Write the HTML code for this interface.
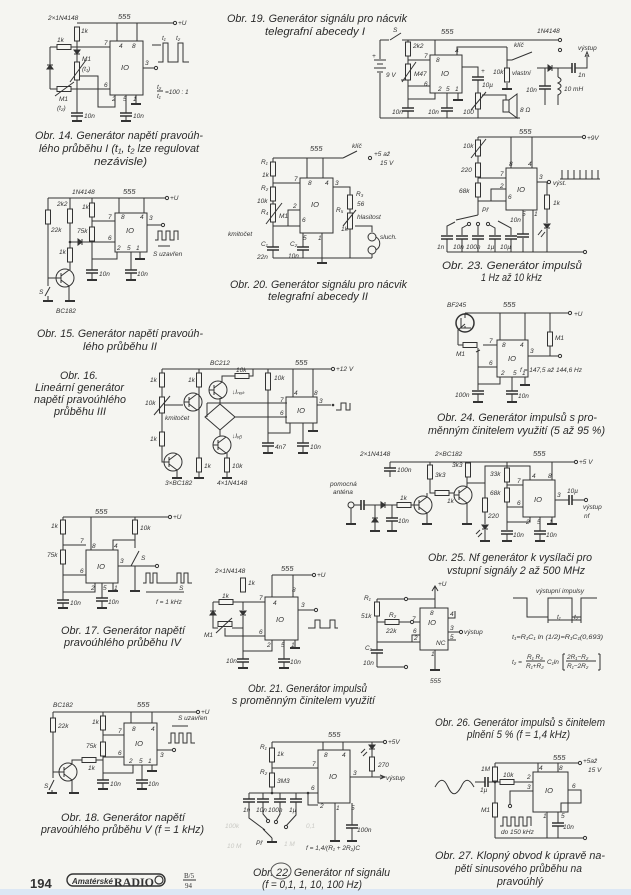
<!DOCTYPE html>
<html><head><meta charset="utf-8">
<style>
html,body{margin:0;padding:0;background:#f5f5f1;}
svg{display:block}
path,rect,circle,line,ellipse,polyline{stroke:#333;stroke-width:1;fill:none}
.f{fill:#333}
.w{fill:#f5f5f1}
.g2{stroke-width:2}
text{font-family:"Liberation Sans",sans-serif;font-style:italic;fill:#333;stroke:none}
.c{font-size:11px;fill:#2a2a2a}
.s{font-size:6.5px}
.t{font-size:7.5px}
.fa{fill:#c9c9c4}
</style></head><body>
<svg width="631" height="895" viewBox="0 0 631 895" xmlns="http://www.w3.org/2000/svg">
<defs>
<g id="rv"><rect x="-2.5" y="0" width="5" height="14" class="w"/></g>
<g id="rh"><rect x="0" y="-2.5" width="14" height="5" class="w"/></g>
<g id="cp"><path d="M-6 0H6M-6 3H6" style="stroke-width:1.6"/></g>
<g id="cq"><path d="M0 -5V5M3 -5V5" style="stroke-width:1.6"/></g>
<g id="gd"><path d="M-5 0H5" style="stroke-width:2"/></g>
<g id="dd"><path d="M-3 0H3L0 4Z" class="f"/><path d="M-3 4H3"/></g>
<g id="du"><path d="M-3 4H3L0 0Z" class="f"/><path d="M-3 0H3"/></g>
<g id="dr"><path d="M0 -3V3L4 0Z" class="f"/><path d="M4 -3V3"/></g>
<g id="dt"><circle r="1.3" class="f" style="stroke:none"/></g>
<g id="oc"><circle r="1.6" class="w"/></g>
<g id="tr"><circle r="9" class="w"/><path d="M-9 0H-4M-4 -5V5M-4 -2L4 -8M-4 2L4 8"/></g>
</defs>

<!-- ===== Obr 14 ===== -->
<text class="s" x="48" y="20">2×1N4148</text>
<text class="t" x="118" y="19">555</text>
<path d="M77 23H173"/><use href="#oc" x="175" y="23"/><text class="s" x="178" y="25">+U</text>
<rect x="110" y="41" width="33" height="54"/><text class="t" x="121" y="70">IO</text>
<path d="M117 23V41M137 23V41"/><text class="s" x="119" y="48">4</text><text class="s" x="132" y="48">8</text>
<use href="#rv" x="77" y="27"/><text class="s" x="81" y="33">1k</text>
<path d="M77 41V62M50 47H57M71 47H110M50 47V89"/>
<use href="#rh" x="57" y="47"/><text class="s" x="57" y="42">1k</text><text class="s" x="104" y="45">7</text>
<use href="#du" x="50" y="65"/><use href="#dd" x="77" y="50"/>
<rect x="74.5" y="62" width="5" height="18" class="w"/><path d="M70 82L86 60"/>
<text class="s" x="82" y="61">M1</text><text class="s" x="82" y="71">(t₁)</text>
<path d="M77 80V113M80 76H98V107H115V95"/>
<use href="#rh" x="57" y="89"/><path d="M55 96L74 82M50 89H57M71 89H110"/>
<text class="s" x="59" y="101">M1</text><text class="s" x="57" y="110">(t₂)</text>
<text class="s" x="104" y="87">6</text><text class="s" x="112" y="101">2</text><text class="s" x="123" y="101">5</text><text class="s" x="133" y="101">1</text>
<use href="#cp" x="77" y="113"/><path d="M77 116V121"/><use href="#gd" x="77" y="121"/><text class="s" x="84" y="118">10n</text>
<path d="M126 95V113"/><use href="#cp" x="126" y="113"/><path d="M126 116V121"/><use href="#gd" x="126" y="121"/><text class="s" x="133" y="118">10n</text>
<path d="M136 95V104"/><use href="#gd" x="136" y="104"/>
<path d="M143 68H154"/><use href="#oc" x="156" y="68"/><text class="s" x="145" y="65">3</text>
<path d="M152 45H161M158 62H163V43H168V62H178V43H183V62H189"/>
<text class="s" x="162" y="40">t₁</text><text class="s" x="176" y="40">t₂</text>
<text class="s" x="157" y="89">t₂</text><path d="M157 91H163"/><text class="s" x="157" y="98">t₁</text><text class="s" x="165" y="94">=100 : 1</text>
<text class="c" x="35" y="139" textLength="168" lengthAdjust="spacingAndGlyphs">Obr. 14. Generátor napětí pravoúh-</text>
<text class="c" x="39" y="152" textLength="160" lengthAdjust="spacingAndGlyphs">lého průběhu I (t₁, t₂ lze regulovat</text>
<text class="c" x="94" y="165" textLength="53" lengthAdjust="spacingAndGlyphs">nezávisle)</text>

<!-- ===== Obr 15 ===== -->
<text class="s" x="72" y="194">1N4148</text><text class="t" x="123" y="194">555</text>
<path d="M48 198H165"/><use href="#oc" x="167" y="198"/><text class="s" x="170" y="200">+U</text>
<path d="M48 198V210M48 224V278H56"/><use href="#rv" x="48" y="210"/><text class="s" x="51" y="232">22k</text>
<path d="M70 198V209M70 223V248M70 262V270"/><use href="#rv" x="70" y="209"/><text class="s" x="57" y="206">2k2</text>
<use href="#rv" x="70" y="248"/><text class="s" x="59" y="254">1k</text>
<path d="M70 242H78M82 242H115"/><use href="#dr" x="78" y="242"/><use href="#dt" x="70" y="242"/>
<use href="#tr" x="65" y="278"/><path d="M69 286V300"/><use href="#gd" x="70" y="301"/>
<path d="M48 278V286M45 296L50 287M48 296V300"/><use href="#gd" x="48" y="301"/><text class="s" x="39" y="294">S</text>
<text class="s" x="56" y="313">BC182</text>
<path d="M92 198V203M92 217V227M92 241V270M92 221H115"/><use href="#rv" x="92" y="203"/><use href="#rv" x="92" y="227"/>
<text class="s" x="82" y="209">1k</text><text class="s" x="77" y="233">75k</text>
<use href="#cp" x="92" y="270"/><path d="M92 273V279"/><use href="#gd" x="92" y="280"/><text class="s" x="99" y="276">10n</text>
<rect x="115" y="213" width="32" height="39"/><text class="t" x="126" y="233">IO</text>
<path d="M119 198V213M144 198V213"/><text class="s" x="121" y="219">8</text><text class="s" x="140" y="219">4</text><text class="s" x="108" y="219">7</text><text class="s" x="108" y="240">6</text><text class="s" x="149" y="220">3</text>
<path d="M92 259H117V252M131 252V270M140 252V258"/><use href="#cp" x="131" y="270"/><path d="M131 273V279"/><use href="#gd" x="131" y="280"/><use href="#gd" x="140" y="259"/>
<text class="s" x="137" y="276">10n</text><text class="s" x="117" y="250">2</text><text class="s" x="127" y="250">5</text><text class="s" x="136" y="250">1</text>
<path d="M147 225H161"/><use href="#oc" x="163" y="225"/>
<path d="M155 240H158V231H162V240H166V231H170V240H174V231H178V240"/>
<path d="M158 246H170"/><text class="s" x="153" y="256">S uzavřen</text>
<text class="c" x="37" y="337" textLength="166" lengthAdjust="spacingAndGlyphs">Obr. 15. Generátor napětí pravoúh-</text>
<text class="c" x="83" y="350" textLength="74" lengthAdjust="spacingAndGlyphs">lého průběhu II</text>

<!-- ===== Obr 16 ===== -->
<text class="c" x="60" y="379" textLength="38" lengthAdjust="spacingAndGlyphs">Obr. 16.</text>
<text class="c" x="35" y="391" textLength="89" lengthAdjust="spacingAndGlyphs">Lineární generátor</text>
<text class="c" x="34" y="403" textLength="92" lengthAdjust="spacingAndGlyphs">napětí pravoúhlého</text>
<text class="c" x="54" y="415" textLength="52" lengthAdjust="spacingAndGlyphs">průběhu III</text>
<text class="s" x="210" y="365">BC212</text><text class="t" x="295" y="365">555</text>
<path d="M162 369H331"/><use href="#oc" x="333" y="369"/><text class="s" x="336" y="371">+12 V</text>
<path d="M162 369V373M162 387V397M162 413V432M162 446V462H164"/><use href="#rv" x="162" y="373"/><text class="s" x="150" y="382">1k</text>
<rect x="159.5" y="397" width="5" height="16" class="w"/><path d="M154 415L170 396"/><text class="s" x="145" y="405">10k</text><text class="s" x="165" y="420">kmitočet</text>
<path d="M165 405H183"/>
<use href="#rv" x="162" y="432"/><text class="s" x="150" y="441">1k</text>
<use href="#tr" x="173" y="462"/><path d="M177 470V477"/><use href="#gd" x="177" y="478"/>
<use href="#tr" x="193" y="402"/>
<path d="M199 369V373M199 387V458M199 472V477"/><use href="#rv" x="199" y="373"/><use href="#rv" x="199" y="458"/><use href="#gd" x="199" y="478"/>
<text class="s" x="188" y="382">1k</text><text class="s" x="204" y="468">1k</text>
<use href="#tr" x="218" y="390"/><path d="M222 382V376H235M249 376H253V369"/><use href="#rh" x="235" y="376"/><text class="s" x="236" y="372">10k</text>
<text class="s" x="232" y="394">↓Iₙₐₖ</text>
<path d="M220 404L235 417L220 430L205 417Z"/><path d="M207 403V417M207 403H287M235 417H287M220 398V404M220 430V437"/>
<use href="#tr" x="222" y="445"/><text class="s" x="232" y="438">↓Iᵥᵦ</text>
<path d="M227 453V458M227 472V477"/><use href="#rv" x="227" y="458"/><use href="#gd" x="227" y="478"/><text class="s" x="232" y="468">10k</text>
<path d="M268 369V373M268 390V443"/><rect x="265.5" y="373" width="5" height="17" class="w"/><text class="s" x="274" y="380">10k</text>
<use href="#cp" x="268" y="443"/><path d="M268 446V452"/><use href="#gd" x="268" y="453"/><text class="s" x="275" y="449">4n7</text>
<rect x="286" y="397" width="31" height="26"/><text class="t" x="297" y="413">IO</text>
<path d="M293 369V397M313 369V397"/><text class="s" x="294" y="395">4</text><text class="s" x="314" y="395">8</text><text class="s" x="280" y="402">7</text><text class="s" x="280" y="415">6</text>
<path d="M290 423V433H268M303 423V443M313 423V430"/><use href="#cp" x="303" y="443"/><path d="M303 446V452"/><use href="#gd" x="303" y="453"/><use href="#gd" x="313" y="431"/>
<text class="s" x="310" y="449">10n</text>
<path d="M317 405H331"/><text class="s" x="319" y="403">3</text><use href="#dt" x="333" y="405"/>
<path d="M336 410H341V403H346V410H350V403"/>
<text class="s" x="165" y="485">3×BC182</text><text class="s" x="217" y="485">4×1N4148</text>

<!-- ===== Obr 17 ===== -->
<text class="t" x="95" y="514">555</text>
<path d="M63 517H168"/><use href="#oc" x="170" y="517"/><text class="s" x="173" y="519">+U</text>
<path d="M63 517V520M63 534V550M63 564V600"/><use href="#rv" x="63" y="520"/><use href="#rv" x="63" y="550"/>
<text class="s" x="51" y="528">1k</text><text class="s" x="47" y="557">75k</text>
<path d="M63 545H86M63 575H86"/><text class="s" x="80" y="543">7</text><text class="s" x="80" y="573">6</text>
<use href="#cp" x="63" y="600"/><path d="M63 603V608"/><use href="#gd" x="63" y="608"/><text class="s" x="70" y="605">10n</text>
<rect x="86" y="550" width="32" height="33"/><text class="t" x="97" y="569">IO</text>
<path d="M91 517V550M113 550V540H135"/><text class="s" x="92" y="548">8</text><text class="s" x="114" y="548">4</text>
<path d="M135 517V520M135 534V548M131 566L139 551M135 566V590"/><use href="#rv" x="135" y="520"/><use href="#gd" x="135" y="591"/>
<text class="s" x="140" y="530">10k</text><text class="s" x="141" y="560">S</text>
<path d="M95 583V592H63M102 583V598M113 583V590"/><use href="#cp" x="102" y="598"/><path d="M102 601V607"/><use href="#gd" x="102" y="608"/><use href="#gd" x="113" y="591"/>
<text class="s" x="108" y="604">10n</text><text class="s" x="91" y="590">2</text><text class="s" x="103" y="590">5</text><text class="s" x="114" y="590">1</text>
<path d="M118 566H155"/><use href="#oc" x="157" y="566"/><text class="s" x="120" y="563">3</text>
<path d="M143 583H146V573H150V583H153V573H157V583H177V573H181V583H184V573H188V583H192"/>
<path d="M146 592H184"/><text class="s" x="179" y="590">S</text>
<text class="s" x="156" y="604">f = 1 kHz</text>
<text class="c" x="61" y="634" textLength="124" lengthAdjust="spacingAndGlyphs">Obr. 17. Generátor napětí</text>
<text class="c" x="64" y="646" textLength="117" lengthAdjust="spacingAndGlyphs">pravoúhlého průběhu IV</text>

<!-- ===== Obr 18 ===== -->
<text class="s" x="53" y="707">BC182</text><text class="t" x="137" y="707">555</text>
<path d="M53 712H196"/><use href="#oc" x="198" y="712"/><text class="s" x="201" y="714">+U</text>
<path d="M53 712V718M53 732V778M49 790L54 780M52 790V792"/><use href="#rv" x="53" y="718"/><use href="#gd" x="52" y="793"/>
<text class="s" x="58" y="728">22k</text><text class="s" x="44" y="788">S</text>
<use href="#tr" x="68" y="772"/><path d="M53 772H59M72 780V792"/><use href="#gd" x="74" y="793"/>
<path d="M72 764V760H82M96 760H103"/><use href="#rh" x="82" y="760"/><text class="s" x="88" y="770">1k</text>
<path d="M103 712V716M103 730V742M103 756V780M103 735H124M103 757H124"/><use href="#rv" x="103" y="716"/><use href="#rv" x="103" y="742"/>
<text class="s" x="92" y="724">1k</text><text class="s" x="86" y="748">75k</text>
<use href="#cp" x="103" y="780"/><path d="M103 783V788"/><use href="#gd" x="103" y="789"/><text class="s" x="110" y="786">10n</text>
<rect x="124" y="723" width="33" height="42"/><text class="t" x="135" y="746">IO</text>
<path d="M131 712V723M152 712V723"/><text class="s" x="132" y="731">8</text><text class="s" x="151" y="731">4</text><text class="s" x="118" y="733">7</text><text class="s" x="118" y="755">6</text>
<path d="M133 765V773H103M142 765V780M152 765V770"/><use href="#cp" x="142" y="780"/><path d="M142 783V788"/><use href="#gd" x="142" y="789"/><use href="#gd" x="152" y="771"/>
<text class="s" x="148" y="786">10n</text><text class="s" x="129" y="763">2</text><text class="s" x="139" y="763">5</text><text class="s" x="148" y="763">1</text>
<path d="M157 750H172"/><use href="#oc" x="174" y="750"/><text class="s" x="160" y="757">3</text>
<path d="M168 743H171V733H175V743H179V733H183V743H187V733H191V743H195"/>
<path d="M172 726H188"/><text class="s" x="178" y="720">S uzavřen</text>
<text class="c" x="61" y="821" textLength="124" lengthAdjust="spacingAndGlyphs">Obr. 18. Generátor napětí</text>
<text class="c" x="41" y="833" textLength="163" lengthAdjust="spacingAndGlyphs">pravoúhlého průběhu V (f = 1 kHz)</text>

<!-- footer -->
<text x="30" y="888" style="font-size:13px;font-weight:bold;font-style:normal">194</text>
<rect x="67" y="874" width="98" height="12" rx="6" style="stroke-width:1.4"/>
<text x="72" y="884" style="font-size:8px;font-weight:bold">Amatérské</text>
<text x="114" y="886" style="font-size:12px;font-weight:bold;font-style:normal;font-family:'Liberation Serif',serif">RADIO</text>
<circle cx="159" cy="880" r="4" style="stroke-width:1.2"/>
<text x="184" y="878" style="font-size:7px;font-style:normal;font-family:'Liberation Serif',serif">B/5</text><path d="M183 880H196"/>
<text x="185" y="888" style="font-size:7px;font-style:normal;font-family:'Liberation Serif',serif">94</text>
<rect x="0" y="889" width="631" height="6" style="fill:#dce7f4;stroke:none"/>

<!-- ===== Obr 19 ===== -->
<text class="c" x="227" y="22" textLength="180" lengthAdjust="spacingAndGlyphs">Obr. 19. Generátor signálu pro nácvik</text>
<text class="c" x="265" y="35" textLength="100" lengthAdjust="spacingAndGlyphs">telegrafní abecedy I</text>
<text class="s" x="393" y="32">S</text><text class="t" x="441" y="34">555</text><text class="s" x="537" y="33">1N4148</text>
<path d="M380 40H389M390 40L401 33M402 40H558"/><use href="#oc" x="560" y="40"/>
<path d="M380 40V59M380 73V118"/>
<path d="M374 60H386M377 64H383M374 68H386M377 72H383"/><text class="s" x="372" y="58">+</text><text class="s" x="386" y="77">9 V</text>
<path d="M408 40V42M408 56V64M408 80V108M408 111V118M408 60H430M408 86H430M408 99H435V93"/>
<use href="#rv" x="408" y="42"/><text class="s" x="413" y="48">2k2</text>
<rect x="405.5" y="64" width="5" height="16" class="w"/><path d="M402 82L416 62M401 80H405"/><text class="s" x="414" y="76">M47</text>
<use href="#cp" x="408" y="108"/><text class="s" x="392" y="114">10n</text>
<rect x="430" y="55" width="32" height="38"/><text class="t" x="441" y="76">IO</text>
<path d="M435 40V55M457 55V47H507"/><text class="s" x="436" y="62">8</text><text class="s" x="455" y="53">4</text><text class="s" x="424" y="58">7</text><text class="s" x="424" y="86">6</text>
<path d="M447 93V108M447 111V118M458 93V99"/><use href="#cp" x="447" y="108"/><use href="#gd" x="458" y="100"/><text class="s" x="428" y="114">10n</text>
<text class="s" x="438" y="91">2</text><text class="s" x="446" y="91">5</text><text class="s" x="455" y="91">1</text>
<path d="M462 67H478V77M478 80V93M478 109V118"/><use href="#cp" x="478" y="77"/><text class="s" x="481" y="73">+</text><text class="s" x="482" y="87">10µ</text>
<rect x="475.5" y="93" width="5" height="16" class="w"/><path d="M471 110L486 92"/><text class="s" x="463" y="114">100</text>
<path d="M482 95H506V100"/><rect x="503" y="100" width="6" height="12" class="w"/><path d="M509 100L517 94V118L509 112"/><text class="s" x="520" y="112">8 Ω</text>
<path d="M380 118H520"/>
<path d="M507 47V60M507 60H512L532 52M507 60V68M507 83V89"/><use href="#rv" x="507" y="68"/><use href="#gd" x="507" y="89"/><use href="#oc" x="560" y="50"/>
<text class="s" x="514" y="47">klíč</text><text class="s" x="493" y="74">10k</text><text class="s" x="512" y="75">vlastní</text>
<path d="M537 68H548M552 68H572M575 68H587V55"/><use href="#dr" x="548" y="68"/><use href="#cq" x="572" y="68"/><path d="M585 57L587 52L589 57"/>
<text class="s" x="578" y="50">výstup</text><text class="s" x="578" y="77">1n</text>
<path d="M545 68V86M545 89V105"/><use href="#cp" x="545" y="86"/><text class="s" x="526" y="92">10n</text>
<path d="M558 68V77M558 77C562 79 562 81 558 83C562 85 562 87 558 89C562 91 562 93 558 95V105"/><text class="s" x="564" y="91">10 mH</text>

<!-- ===== Obr 20 ===== -->
<text class="t" x="310" y="151">555</text>
<path d="M273 158H343M343 158L357 151"/><use href="#oc" x="370" y="158"/><text class="s" x="352" y="148">klíč</text>
<text class="s" x="374" y="156">+5 až</text><text class="s" x="380" y="165">15 V</text>
<path d="M273 158V162M273 176V187M273 201V204M273 222V247M273 250V258M273 183H300M273 226H300M288 226V210H300"/>
<use href="#rv" x="273" y="162"/><use href="#rv" x="273" y="187"/>
<rect x="270.5" y="204" width="5" height="18" class="w"/><path d="M266 224L282 203"/>
<text class="s" x="261" y="164">R₁</text><text class="s" x="262" y="177">1k</text><text class="s" x="261" y="190">R₂</text><text class="s" x="257" y="203">10k</text><text class="s" x="261" y="214">R₄</text><text class="s" x="279" y="218">M1</text>
<text class="s" x="228" y="236">kmitočet</text>
<use href="#cp" x="273" y="247"/><text class="s" x="261" y="246">C₁</text><text class="s" x="257" y="259">22n</text>
<rect x="300" y="178" width="33" height="55"/><text class="t" x="311" y="207">IO</text>
<path d="M307 158V178M323 158V178"/><text class="s" x="308" y="185">8</text><text class="s" x="325" y="185">4</text><text class="s" x="294" y="181">7</text><text class="s" x="293" y="208">2</text><text class="s" x="302" y="222">6</text>
<path d="M303 233V247M303 250V258M322 233V262"/><use href="#cp" x="303" y="247"/><use href="#gd" x="322" y="263"/>
<text class="s" x="290" y="246">C₂</text><text class="s" x="288" y="258">10n</text><text class="s" x="303" y="240">5</text><text class="s" x="318" y="240">1</text>
<path d="M333 187H350V195M350 209V213M350 229V258"/><use href="#rv" x="350" y="195"/><text class="s" x="335" y="185">3</text>
<rect x="347.5" y="213" width="5" height="16" class="w"/><path d="M343 226L356 210"/>
<text class="s" x="356" y="196">R₃</text><text class="s" x="357" y="206">56</text><text class="s" x="336" y="212">R₅</text><text class="s" x="341" y="231">1k</text><text class="s" x="357" y="219">hlasitost</text>
<path d="M355 226H372V232M372 254V258"/><circle cx="372" cy="237" r="4"/><circle cx="372" cy="250" r="4"/><path d="M376 237C381 240 381 247 376 250"/><text class="s" x="380" y="239">sluch.</text>
<path d="M273 258H372"/>
<text class="c" x="230" y="288" textLength="177" lengthAdjust="spacingAndGlyphs">Obr. 20. Generátor signálu pro nácvik</text>
<text class="c" x="268" y="300" textLength="100" lengthAdjust="spacingAndGlyphs">telegrafní abecedy II</text>

<!-- ===== Obr 23 ===== -->
<text class="t" x="519" y="134">555</text>
<path d="M478 137H582"/><use href="#oc" x="584" y="137"/><text class="s" x="587" y="140">+9V</text>
<path d="M478 137V140M478 156V163M478 177V183M478 197V215M478 178H506M478 201H506M491 201V189H506"/>
<rect x="475.5" y="140" width="5" height="16" class="w"/><path d="M471 158L486 139"/><use href="#rv" x="478" y="163"/><use href="#rv" x="478" y="183"/>
<text class="s" x="463" y="148">10k</text><text class="s" x="461" y="172">220</text><text class="s" x="459" y="193">68k</text>
<rect x="506" y="168" width="31" height="42"/><text class="t" x="517" y="192">IO</text>
<path d="M511 137V168M532 137V168"/><text class="s" x="509" y="166">8</text><text class="s" x="528" y="166">4</text><text class="s" x="500" y="176">7</text><text class="s" x="500" y="188">2</text><text class="s" x="508" y="199">6</text>
<path d="M537 182H547"/><use href="#oc" x="549" y="182"/><text class="s" x="539" y="179">3</text><text class="s" x="553" y="185">výst.</text>
<path d="M560 179H600M562 170V179M568 170V179M574 170V179M580 170V179M586 170V179M592 170V179M598 170V179"/>
<path d="M547 182V195M547 209V223M547 229V252"/><use href="#rv" x="547" y="195"/><use href="#dd" x="547" y="224"/><path d="M538 235L542 230M541 237L545 232"/><text class="s" x="553" y="205">1k</text>
<path d="M478 215L456 220"/><text class="s" x="482" y="212">Př</text>
<path d="M447 235V226L455 222M462 235V228L469 224M478 235V225M495 235V228L488 224M511 235V228L498 221"/>
<use href="#oc" x="478" y="224"/><use href="#oc" x="469" y="224"/><use href="#oc" x="488" y="224"/>
<use href="#cp" x="447" y="236"/><use href="#cp" x="462" y="236"/><use href="#cp" x="478" y="236"/><use href="#cp" x="495" y="236"/><use href="#cp" x="511" y="236"/>
<path d="M447 239V252M462 239V252M478 239V252M495 239V252M511 239V252M447 252H583"/><use href="#oc" x="585" y="252"/>
<text class="s" x="437" y="249">1n</text><text class="s" x="453" y="249">10n</text><text class="s" x="466" y="249">100n</text><text class="s" x="487" y="249">1µ</text><text class="s" x="500" y="249">10µ</text>
<path d="M523 210V234M523 238V252M533 210V252"/><use href="#cp" x="523" y="234"/><text class="s" x="510" y="222">10n</text><text class="s" x="522" y="216">5</text><text class="s" x="534" y="216">1</text>
<text class="c" x="442" y="269" textLength="140" lengthAdjust="spacingAndGlyphs">Obr. 23. Generátor impulsů</text>
<text class="c" x="481" y="281" textLength="61" lengthAdjust="spacingAndGlyphs">1 Hz až 10 kHz</text>

<!-- ===== Obr 24 ===== -->
<text class="s" x="447" y="307">BF245</text><text class="t" x="503" y="307">555</text>
<path d="M465 313H568"/><use href="#oc" x="570" y="313"/><text class="s" x="574" y="316">+U</text>
<circle cx="465" cy="323" r="9" class="w" style="stroke-width:1.5"/><path d="M465 313V318M461 318V328H471M465 328V326M465 324L458 330V345"/>
<path d="M458 345H463M483 345H497M478 348V390"/><use href="#rh" x="463" y="345"/><path d="M476 352L480 350"/><text class="s" x="456" y="356">M1</text>
<path d="M478 367H497M500 377V384H478"/><text class="s" x="489" y="343">7</text><text class="s" x="489" y="365">6</text><text class="s" x="501" y="375">2</text>
<use href="#cp" x="478" y="391"/><path d="M478 394V401"/><use href="#gd" x="478" y="402"/><text class="s" x="455" y="397">100n</text>
<rect x="497" y="340" width="31" height="37"/><text class="t" x="508" y="361">IO</text>
<path d="M500 313V340M525 313V340"/><text class="s" x="502" y="347">8</text><text class="s" x="520" y="347">4</text>
<path d="M550 313V332M550 346V356M528 356H558"/><use href="#rv" x="550" y="332"/><use href="#oc" x="560" y="356"/><text class="s" x="555" y="340">M1</text><text class="s" x="530" y="353">3</text>
<text class="s" x="520" y="372">f = 147,5 až 144,6 Hz</text>
<path d="M512 377V391M512 394V401M525 377V384"/><use href="#cp" x="512" y="391"/><use href="#gd" x="512" y="402"/><use href="#gd" x="525" y="385"/>
<text class="s" x="518" y="398">10n</text><text class="s" x="513" y="375">5</text><text class="s" x="522" y="375">1</text>
<text class="c" x="437" y="421" textLength="160" lengthAdjust="spacingAndGlyphs">Obr. 24. Generátor impulsů s pro-</text>
<text class="c" x="428" y="434" textLength="177" lengthAdjust="spacingAndGlyphs">měnným činitelem využití (5 až 95 %)</text>

<!-- ===== Obr 25 ===== -->
<text class="s" x="360" y="456">2×1N4148</text><text class="s" x="435" y="456">2×BC182</text><text class="t" x="533" y="456">555</text>
<path d="M390 462H574"/><use href="#oc" x="576" y="462"/><text class="s" x="579" y="464">+5 V</text>
<path d="M390 462V468M390 471V477"/><use href="#cp" x="390" y="468"/><text class="s" x="397" y="472">100n</text>
<text class="s" x="330" y="486">pomocná</text><text class="s" x="333" y="494">anténa</text>
<circle cx="351" cy="505" r="3"/><path d="M351 508V523"/><use href="#gd" x="351" y="524"/>
<path d="M354 505H361M364 505H381M385 505H397M411 505H414"/><use href="#cq" x="361" y="505"/><use href="#dr" x="381" y="505"/><use href="#rh" x="397" y="505"/><text class="s" x="400" y="500">1k</text>
<path d="M375 505V518M375 522V530M392 505V518M392 521V530"/><use href="#du" x="375" y="518"/><use href="#cp" x="392" y="518"/><use href="#gd" x="375" y="531"/><use href="#gd" x="392" y="531"/><text class="s" x="398" y="523">10n</text>
<use href="#tr" x="423" y="505"/><path d="M427 497V493M427 513V523"/><use href="#gd" x="427" y="524"/>
<path d="M430 462V465M430 479V493H435M449 493H455"/><use href="#rv" x="430" y="465"/><use href="#rh" x="435" y="493"/><text class="s" x="435" y="477">3k3</text><text class="s" x="447" y="503">1k</text>
<use href="#tr" x="463" y="495"/><path d="M467 487V477M467 503V523"/><use href="#gd" x="467" y="524"/>
<path d="M468 462V463"/><use href="#rv" x="468" y="463"/><text class="s" x="452" y="467">3k3</text>
<path d="M467 483H485V498M485 512V524M485 530V540"/><use href="#rv" x="485" y="498"/><use href="#dd" x="485" y="525"/><use href="#gd" x="485" y="541"/><path d="M476 534L480 530M478 537L482 533"/>
<text class="s" x="488" y="518">220</text>
<path d="M485 483V466H530V480M507 462V468M507 482V488M507 502V530"/><use href="#rv" x="507" y="468"/><use href="#rv" x="507" y="488"/>
<text class="s" x="490" y="476">33k</text><text class="s" x="490" y="495">68k</text>
<path d="M507 485H523M507 507H523"/><text class="s" x="517" y="483">7</text><text class="s" x="517" y="505">6</text>
<use href="#cp" x="507" y="531"/><path d="M507 534V540"/><use href="#gd" x="507" y="541"/><text class="s" x="513" y="537">10n</text>
<rect x="523" y="480" width="32" height="37"/><text class="t" x="534" y="502">IO</text>
<path d="M552 462V480"/><text class="s" x="532" y="478">4</text><text class="s" x="548" y="478">8</text>
<path d="M530 517V522H507M540 517V531M540 534V540M552 517V523"/><use href="#cp" x="540" y="531"/><use href="#gd" x="540" y="541"/><use href="#gd" x="552" y="524"/>
<text class="s" x="546" y="537">10n</text><text class="s" x="526" y="524">2</text><text class="s" x="537" y="524">5</text><text class="s" x="549" y="524">1</text>
<path d="M555 500H569M572 500H584"/><use href="#cq" x="569" y="500"/><use href="#oc" x="586" y="500"/><text class="s" x="557" y="497">3</text><text class="s" x="567" y="493">10µ</text>
<text class="s" x="583" y="509">výstup</text><text class="s" x="584" y="518">nf</text>
<text class="c" x="428" y="561" textLength="164" lengthAdjust="spacingAndGlyphs">Obr. 25. Nf generátor k vysílači pro</text>
<text class="c" x="447" y="574" textLength="138" lengthAdjust="spacingAndGlyphs">vstupní signály 2 až 500 MHz</text>

<!-- ===== Obr 21 ===== -->
<text class="s" x="215" y="573">2×1N4148</text><text class="t" x="281" y="571">555</text>
<path d="M272 575H312"/><use href="#oc" x="314" y="575"/><text class="s" x="317" y="577">+U</text>
<path d="M243 578V592M243 602V610M243 616V636"/><use href="#rv" x="243" y="578"/><text class="s" x="248" y="585">1k</text>
<path d="M213 602H219M233 602H265M213 602V628H218M232 628H243"/><use href="#rh" x="219" y="602"/><text class="s" x="222" y="598">1k</text><text class="s" x="259" y="600">7</text>
<use href="#du" x="213" y="611"/><use href="#dd" x="243" y="611"/>
<use href="#rh" x="218" y="624"/><path d="M216 633L232 618M225 628V636H243"/><text class="s" x="204" y="637">M1</text>
<path d="M243 636H265M243 636V659M272 640V651H243"/><text class="s" x="259" y="634">6</text>
<use href="#cp" x="243" y="659"/><path d="M243 662V667"/><use href="#gd" x="243" y="668"/><text class="s" x="226" y="663">10n</text>
<rect x="265" y="597" width="33" height="43"/><text class="t" x="276" y="622">IO</text>
<path d="M272 575V597M293 575V597"/><text class="s" x="273" y="605">4</text><text class="s" x="292" y="592">8</text>
<path d="M284 640V659M284 662V667M295 640V647"/><use href="#cp" x="284" y="659"/><use href="#gd" x="284" y="668"/><use href="#gd" x="295" y="648"/>
<text class="s" x="290" y="664">10n</text><text class="s" x="267" y="647">2</text><text class="s" x="281" y="647">5</text><text class="s" x="291" y="647">1</text>
<path d="M298 610H314"/><use href="#oc" x="316" y="610"/><text class="s" x="301" y="607">3</text>
<path d="M308 628H315V620H320V628H330V620H335V628H338"/>
<text class="c" x="248" y="692" textLength="119" lengthAdjust="spacingAndGlyphs">Obr. 21. Generátor impulsů</text>
<text class="c" x="232" y="704" textLength="143" lengthAdjust="spacingAndGlyphs">s proměnným činitelem využití</text>

<!-- ===== Obr 26 ===== -->
<path d="M435 608V587M432 591L435 586L438 591"/><text class="s" x="438" y="586">+U</text>
<path d="M377 599H404M408 599H435M377 599V602M377 616V650M377 653V667M377 622H385M399 622H410M414 622H420"/>
<use href="#oc" x="406" y="599"/><use href="#rv" x="377" y="602"/><use href="#rh" x="385" y="622"/><use href="#oc" x="412" y="622"/>
<text class="s" x="364" y="600">R₁</text><text class="s" x="361" y="618">51k</text><text class="s" x="389" y="617">R₂</text><text class="s" x="386" y="633">22k</text>
<path d="M377 642H420M412 642V635H420"/><text class="s" x="412" y="621">7</text><text class="s" x="413" y="633">6</text><text class="s" x="414" y="640">2</text>
<use href="#cp" x="377" y="650"/><text class="s" x="365" y="650">C₁</text><text class="s" x="363" y="665">10n</text>
<path d="M377 667H404"/><use href="#oc" x="406" y="667"/>
<rect x="420" y="608" width="28" height="42"/><text class="t" x="428" y="625">IO</text><text class="s" x="436" y="645">NC</text><text class="s" x="430" y="615">8</text>
<path d="M448 618H455V611M448 632H459M448 640H456M435 650V669"/><use href="#oc" x="461" y="632"/><use href="#gd" x="435" y="670"/>
<text class="s" x="450" y="616">4</text><text class="s" x="450" y="630">3</text><text class="s" x="450" y="639">5</text><text class="s" x="431" y="656">1</text><text class="s" x="464" y="634">výstup</text>
<text class="s" x="430" y="683">555</text>
<text class="s" x="536" y="593">výstupní impulsy</text>
<path d="M513 598H527V617H548V598H572V617H581V598H597"/>
<path d="M548 620H572M572 620H581M548 617V623M572 617V623M581 617V623"/><text class="s" x="557" y="619">t₁</text><text class="s" x="574" y="619">t₂</text>
<text class="s" x="512" y="639" textLength="91" lengthAdjust="spacingAndGlyphs">t₁=R₁C₁ ln (1/2)=R₁C₁(0,693)</text>
<text class="s" x="512" y="664">t₂ =</text><text class="s" x="527" y="659">R₁ R₂</text><path d="M526 661H545"/><text class="s" x="526" y="668">R₁+R₂</text>
<text class="s" x="547" y="664">C₁ln</text><path d="M563 654V670M563 654H565M563 670H565M600 654V670M598 654H600M598 670H600"/>
<text class="s" x="567" y="659">2R₁−R₂</text><path d="M566 661H596"/><text class="s" x="567" y="668">R₁−2R₂</text>
<text class="c" x="435" y="726" textLength="170" lengthAdjust="spacingAndGlyphs">Obr. 26. Generátor impulsů s činitelem</text>
<text class="c" x="467" y="738" textLength="103" lengthAdjust="spacingAndGlyphs">plnění 5 % (f = 1,4 kHz)</text>

<!-- ===== Obr 22 ===== -->
<text class="t" x="328" y="737">555</text>
<path d="M272 742H383"/><use href="#oc" x="385" y="742"/><text class="s" x="388" y="744">+5V</text>
<path d="M272 742V748M272 762V773M272 787V793M272 768H318"/><use href="#rv" x="272" y="748"/><use href="#rv" x="272" y="773"/>
<text class="s" x="260" y="749">R₁</text><text class="s" x="277" y="756">1k</text><text class="s" x="260" y="774">R₂</text><text class="s" x="277" y="783">3M3</text><text class="s" x="312" y="766">7</text>
<path d="M249 793H318M308 793V805H318"/><use href="#dt" x="272" y="793"/><use href="#dt" x="308" y="793"/><text class="s" x="311" y="790">6</text><text class="s" x="320" y="808">2</text>
<path d="M249 793V799M263 793V799M280 793V799M296 793V799"/>
<use href="#cp" x="249" y="799"/><use href="#cp" x="263" y="799"/><use href="#cp" x="280" y="799"/><use href="#cp" x="296" y="799"/>
<text class="s" x="243" y="812">1n</text><text class="s" x="256" y="812">10n</text><text class="s" x="268" y="812">100n</text><text class="s" x="289" y="812">1µ</text>
<path d="M249 802V818L265 830M263 802V814L268 820M280 802V814L276 821M296 802V815L286 826M272 838L263 829M272 838V841"/>
<use href="#oc" x="268" y="821"/><use href="#oc" x="276" y="822"/><use href="#oc" x="286" y="827"/><use href="#gd" x="272" y="842"/>
<text class="s" x="256" y="845">Př</text>
<text class="s fa" x="225" y="828">100k</text><text class="s fa" x="227" y="848">10 M</text><text class="s fa" x="284" y="846">1 M</text><text class="s fa" x="306" y="828">0,1</text>
<rect x="318" y="750" width="32" height="53"/><text class="t" x="329" y="779">IO</text>
<path d="M323 742V750M343 742V750"/><text class="s" x="324" y="757">8</text><text class="s" x="342" y="757">4</text>
<path d="M335 803V840M352 803V825M352 828V840"/><use href="#gd" x="335" y="841"/><use href="#cp" x="352" y="825"/><use href="#gd" x="352" y="841"/>
<text class="s" x="336" y="810">1</text><text class="s" x="351" y="810">5</text><text class="s" x="357" y="832">100n</text>
<path d="M350 777H383"/><path d="M380 775L385 777L380 779"/><text class="s" x="353" y="775">3</text><text class="s" x="386" y="780">výstup</text>
<path d="M372 742V745M372 749V757M372 771V777"/><use href="#dd" x="372" y="745"/><use href="#rv" x="372" y="757"/><path d="M361 753L365 749M363 756L367 752"/><text class="s" x="378" y="767">270</text>
<text class="s" x="306" y="850">f = 1,4/(R₁ + 2R₂)C</text>
<ellipse cx="281" cy="871" rx="10" ry="8" style="stroke:#555"/>
<text class="c" x="253" y="876" textLength="137" lengthAdjust="spacingAndGlyphs">Obr. 22. Generátor nf signálu</text>
<text class="c" x="262" y="888" textLength="100" lengthAdjust="spacingAndGlyphs">(f = 0,1, 1, 10, 100 Hz)</text>

<!-- ===== Obr 27 ===== -->
<text class="t" x="553" y="760">555</text>
<path d="M495 763H578"/><use href="#oc" x="580" y="763"/><text class="s" x="583" y="763">+5až</text><text class="s" x="588" y="772">15 V</text>
<path d="M495 763V767M495 781V803M495 817V838"/><use href="#rv" x="495" y="767"/><use href="#rv" x="495" y="803"/>
<text class="s" x="481" y="771">1M</text><text class="s" x="481" y="812">M1</text>
<path d="M435 787C440 778 444 778 448 787C452 796 456 796 461 787C465 778 469 778 474 787"/>
<path d="M475 782H485M488 782H500M514 782H533"/><use href="#cq" x="485" y="782"/><use href="#rh" x="500" y="782"/><use href="#dt" x="495" y="782"/>
<text class="s" x="480" y="792">1µ</text><text class="s" x="503" y="777">10k</text><text class="s" x="527" y="779">2</text>
<path d="M533 791H510V805"/><use href="#oc" x="510" y="806"/><text class="s" x="527" y="789">3</text>
<path d="M500 826H503V817H507V826H511V817H515V826H519V817H523V826H527V817H531V826"/>
<text class="s" x="501" y="834">do 150 kHz</text>
<rect x="533" y="772" width="35" height="40"/><text class="t" x="545" y="793">IO</text>
<path d="M538 763V772M558 763V772"/><text class="s" x="539" y="770">4</text><text class="s" x="559" y="770">8</text>
<path d="M568 790H581V803H561V812"/><text class="s" x="572" y="788">6</text>
<path d="M547 812V838M558 812V823M558 826V838M495 838H583"/><use href="#cp" x="558" y="823"/><use href="#oc" x="585" y="838"/>
<text class="s" x="543" y="818">1</text><text class="s" x="561" y="818">5</text><text class="s" x="563" y="829">10n</text>
<text class="c" x="435" y="859" textLength="170" lengthAdjust="spacingAndGlyphs">Obr. 27. Klopný obvod k úpravě na-</text>
<text class="c" x="455" y="872" textLength="127" lengthAdjust="spacingAndGlyphs">pětí sinusového průběhu na</text>
<text class="c" x="497" y="885" textLength="46" lengthAdjust="spacingAndGlyphs">pravoúhlý</text>
</svg>
</body></html>
